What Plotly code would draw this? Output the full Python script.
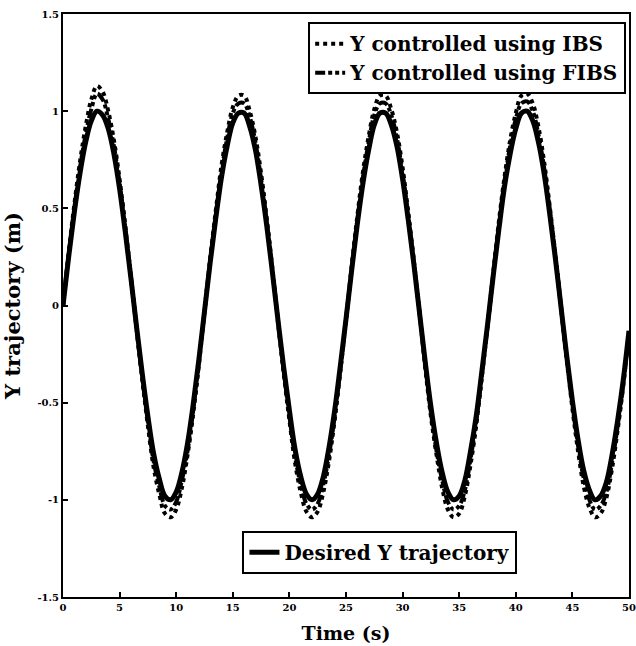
import plotly.graph_objects as go

# time samples (s), every 0.5 s from 0 to 50
time_s = [i * 0.5 for i in range(101)]

# desired Y trajectory (m)
desired_y = [0, 0.25, 0.48, 0.68, 0.84, 0.95, 1.00, 0.98, 0.91, 0.78,
             0.60, 0.38, 0.14, -0.11, -0.35, -0.57, -0.76, -0.89, -0.98, -1.00,
             -0.96, -0.86, -0.71, -0.51, -0.28, -0.03, 0.22, 0.45, 0.66, 0.82,
             0.94, 0.99, 0.99, 0.92, 0.80, 0.62, 0.41, 0.17, -0.08, -0.32,
             -0.54, -0.74, -0.88, -0.97, -1.00, -0.97, -0.88, -0.73, -0.54, -0.31,
             -0.07, 0.18, 0.42, 0.63, 0.80, 0.93, 0.99, 0.99, 0.93, 0.82,
             0.65, 0.44, 0.21, -0.04, -0.29, -0.52, -0.71, -0.86, -0.96, -1.00,
             -0.98, -0.90, -0.75, -0.57, -0.34, -0.10, 0.15, 0.39, 0.61, 0.78,
             0.91, 0.99, 1.00, 0.95, 0.84, 0.68, 0.47, 0.24, -0.01, -0.26,
             -0.49, -0.69, -0.85, -0.95, -1.00, -0.98, -0.91, -0.77, -0.59, -0.38,
             -0.13]

# Y controlled using IBS
ibs_y = [0, 0.27, 0.52, 0.74, 0.92, 1.06, 1.13, 1.10, 1.00, 0.85,
         0.65, 0.41, 0.15, -0.12, -0.38, -0.62, -0.83, -0.97, -1.07, -1.09,
         -1.05, -0.94, -0.77, -0.56, -0.31, -0.03, 0.24, 0.49, 0.72, 0.89,
         1.02, 1.08, 1.08, 1.00, 0.87, 0.68, 0.45, 0.19, -0.09, -0.35,
         -0.59, -0.81, -0.96, -1.06, -1.09, -1.06, -0.96, -0.80, -0.59, -0.34,
         -0.08, 0.20, 0.46, 0.69, 0.87, 1.01, 1.08, 1.08, 1.01, 0.89,
         0.71, 0.48, 0.23, -0.04, -0.32, -0.57, -0.77, -0.94, -1.05, -1.09,
         -1.07, -0.98, -0.82, -0.62, -0.37, -0.11, 0.16, 0.43, 0.66, 0.85,
         0.99, 1.08, 1.09, 1.04, 0.92, 0.74, 0.51, 0.26, -0.01, -0.28,
         -0.53, -0.75, -0.93, -1.04, -1.09, -1.07, -0.99, -0.84, -0.64, -0.41,
         -0.14]

# Y controlled using FIBS
fibs_y = [0, 0.26, 0.50, 0.71, 0.88, 1.01, 1.09, 1.06, 0.96, 0.82,
          0.63, 0.40, 0.15, -0.12, -0.37, -0.60, -0.80, -0.93, -1.03, -1.05,
          -1.01, -0.90, -0.75, -0.54, -0.29, -0.03, 0.23, 0.47, 0.69, 0.86,
          0.99, 1.04, 1.04, 0.97, 0.84, 0.65, 0.43, 0.18, -0.08, -0.34,
          -0.57, -0.78, -0.92, -1.02, -1.05, -1.02, -0.92, -0.77, -0.57, -0.33,
          -0.07, 0.19, 0.44, 0.66, 0.84, 0.98, 1.04, 1.04, 0.98, 0.86,
          0.68, 0.46, 0.22, -0.04, -0.30, -0.55, -0.75, -0.90, -1.01, -1.05,
          -1.03, -0.95, -0.79, -0.60, -0.36, -0.11, 0.16, 0.41, 0.64, 0.82,
          0.96, 1.04, 1.05, 1.00, 0.88, 0.71, 0.49, 0.25, -0.01, -0.27,
          -0.51, -0.72, -0.89, -1.00, -1.05, -1.03, -0.96, -0.81, -0.62, -0.40,
          -0.14]

x_ticks = [0, 5, 10, 15, 20, 25, 30, 35, 40, 45, 50]
y_ticks = [-1.5, -1, -0.5, 0, 0.5, 1, 1.5]
y_tick_labels = ["-1.5", "-1", "-0.5", "0", "0.5", "1", "1.5"]

SERIF = "DejaVu Serif"

fig = go.Figure()
fig.add_trace(go.Scatter(
    x=time_s, y=ibs_y, mode="lines", name="Y controlled using IBS",
    line=dict(color="black", width=4, dash="4px,4px", shape="spline"),
    legend="legend"))
fig.add_trace(go.Scatter(
    x=time_s, y=fibs_y, mode="lines", name="Y controlled using FIBS",
    line=dict(color="black", width=4, dash="10px,3px,4px,3px,4px,3px", shape="spline"),
    legend="legend"))
fig.add_trace(go.Scatter(
    x=time_s, y=desired_y, mode="lines", name="Desired Y trajectory",
    line=dict(color="black", width=5, shape="spline"),
    legend="legend2"))

axis_common = dict(
    showline=True, mirror=True, linecolor="black", linewidth=2,
    ticks="inside", ticklen=5, tickwidth=2, tickcolor="black",
    showgrid=False, zeroline=False, automargin=False,
    ticklabeloverflow="allow",
    tickfont=dict(family=SERIF, size=10, color="black", weight="bold"),
)

fig.update_layout(
    width=636, height=646,
    margin=dict(l=63, r=7, t=14, b=49),
    paper_bgcolor="white", plot_bgcolor="white",
    font=dict(family=SERIF, color="black"),
    xaxis=dict(range=[0, 50], tickvals=x_ticks, ticklabelstandoff=0, **axis_common,
               title=dict(text="Time (s)",
                          font=dict(family=SERIF, size=19, color="black", weight="bold"))),
    yaxis=dict(range=[-1.5, 1.5], tickvals=y_ticks, ticktext=y_tick_labels, **axis_common,
               title=dict(text="Y trajectory (m)",
                          font=dict(family=SERIF, size=21, color="black", weight="bold"))),
    legend=dict(x=0.995, y=0.986, xanchor="right", yanchor="top",
                bgcolor="white", bordercolor="black", borderwidth=2,
                font=dict(family=SERIF, size=20, color="black", weight="bold"),
                tracegroupgap=0, itemwidth=30),
    legend2=dict(x=0.56, y=0.04, xanchor="center", yanchor="bottom",
                 bgcolor="white", bordercolor="black", borderwidth=2,
                 font=dict(family=SERIF, size=20, color="black", weight="bold"),
                 itemwidth=30),
)

# remove the default page margin so the figure fills the window exactly
fig.write_html("out.html", config={"displayModeBar": False},
               post_script="document.body.style.margin='0';")
